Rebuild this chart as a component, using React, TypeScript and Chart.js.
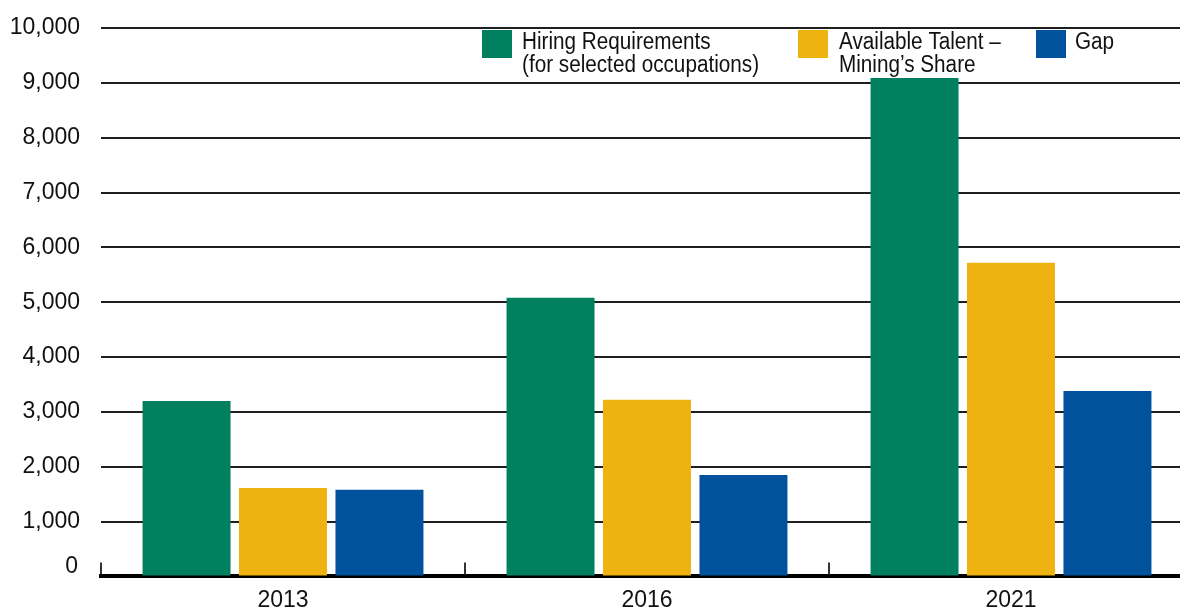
import React, { useEffect, useRef } from "react";
import { Chart, registerables } from "chart.js";

Chart.register(...registerables);

const categories = ["2013", "2016", "2021"];
const hiringRequirements = [3200, 5080, 9090];
const availableTalent = [1610, 3220, 5720];
const gapValues = [1580, 1850, 3380];
const legendLines = [
  ["Hiring Requirements", "(for selected occupations)"],
  ["Available Talent –", "Mining’s Share"],
  ["Gap"],
];
const seriesColors = ["#01805F", "#EEB211", "#01529C"];
const yMin = 0;
const yMax = 10000;
const yStep = 1000;

const FONT = "'Liberation Sans', Arial, sans-serif";

const legendPlugin = {
  id: "customLegend",
  afterDraw(chart: any) {
    const ctx = chart.ctx;
    const boxX = [482, 798, 1036];
    const textX = [522, 839, 1075];
    chart.data.datasets.forEach((ds: any, i: number) => {
      ctx.save();
      ctx.fillStyle = ds.backgroundColor;
      ctx.fillRect(boxX[i], 30, 30, 28);
      ctx.fillStyle = "#111";
      ctx.font = `23px ${FONT}`;
      ctx.textAlign = "left";
      ctx.textBaseline = "alphabetic";
      ctx.translate(textX[i], 0);
      ctx.scale(0.9, 1);
      legendLines[i].forEach((line, j) => {
        ctx.fillText(line, 0, 48.5 + j * 23.4);
      });
      ctx.restore();
    });
  },
};

const axisExtrasPlugin = {
  id: "axisExtras",
  afterDraw(chart: any) {
    const ctx = chart.ctx;
    const x = chart.scales.x;
    const y = chart.scales.y;
    const step = x.getPixelForValue(1) - x.getPixelForValue(0);
    const bottom = chart.chartArea.bottom;
    ctx.save();
    ctx.strokeStyle = "#333";
    ctx.lineWidth = 2;
    for (let i = 0; i <= categories.length; i++) {
      const px = Math.round(x.getPixelForValue(i) - step / 2);
      ctx.beginPath();
      ctx.moveTo(px, bottom - 14);
      ctx.lineTo(px, bottom - 2);
      ctx.stroke();
    }
    ctx.fillStyle = "#111";
    ctx.font = `23px ${FONT}`;
    ctx.textAlign = "right";
    ctx.textBaseline = "middle";
    ctx.fillText(String(yMin), 78, y.getPixelForValue(yMin) - 9.5);
    ctx.restore();
  },
};

export default function App() {
  const ref = useRef<HTMLCanvasElement>(null);
  useEffect(() => {
    if (!ref.current) return;
    const chart = new Chart(ref.current, {
      type: "bar",
      data: {
        labels: categories,
        datasets: [
          { label: legendLines[0].join(" "), data: hiringRequirements, backgroundColor: seriesColors[0] },
          { label: legendLines[1].join(" "), data: availableTalent, backgroundColor: seriesColors[1] },
          { label: legendLines[2].join(" "), data: gapValues, backgroundColor: seriesColors[2] },
        ],
      },
      options: {
        responsive: false,
        animation: false,
        layout: { padding: { top: 28, left: 0, right: 0, bottom: 0 } },
        datasets: { bar: { categoryPercentage: 0.795, barPercentage: 0.912 } },
        plugins: { legend: { display: false }, tooltip: { enabled: false } },
        scales: {
          x: {
            z: 1,
            afterFit(scale: any) {
              scale.height = 37.6;
              scale.paddingLeft = 0;
              scale.paddingRight = 0;
            },
            grid: { display: false, drawTicks: false },
            border: { display: true, color: "#000", width: 4 },
            ticks: { color: "#111", padding: 10, font: { family: FONT, size: 23 } },
          },
          y: {
            min: yMin,
            max: yMax,
            afterFit(scale: any) {
              scale.width = 101;
              scale.paddingTop = 0;
              scale.paddingBottom = 0;
            },
            grid: { color: "#1e1e1e", lineWidth: 2, drawTicks: false },
            border: { display: false },
            ticks: {
              stepSize: yStep,
              padding: 21,
              color: "#111",
              font: { family: FONT, size: 23 },
              callback: (v: any) => (Number(v) === yMin ? "" : Number(v).toLocaleString("en-US")),
            },
          },
        },
      },
      plugins: [legendPlugin, axisExtrasPlugin],
    });
    return () => chart.destroy();
  }, []);
  return (
    <div style={{ position: "fixed", left: 0, top: 0, width: 1180, height: 614, overflow: "hidden", background: "#fff" }}>
      <canvas ref={ref} width={1193} height={614} style={{ display: "block" }} />
    </div>
  );
}
